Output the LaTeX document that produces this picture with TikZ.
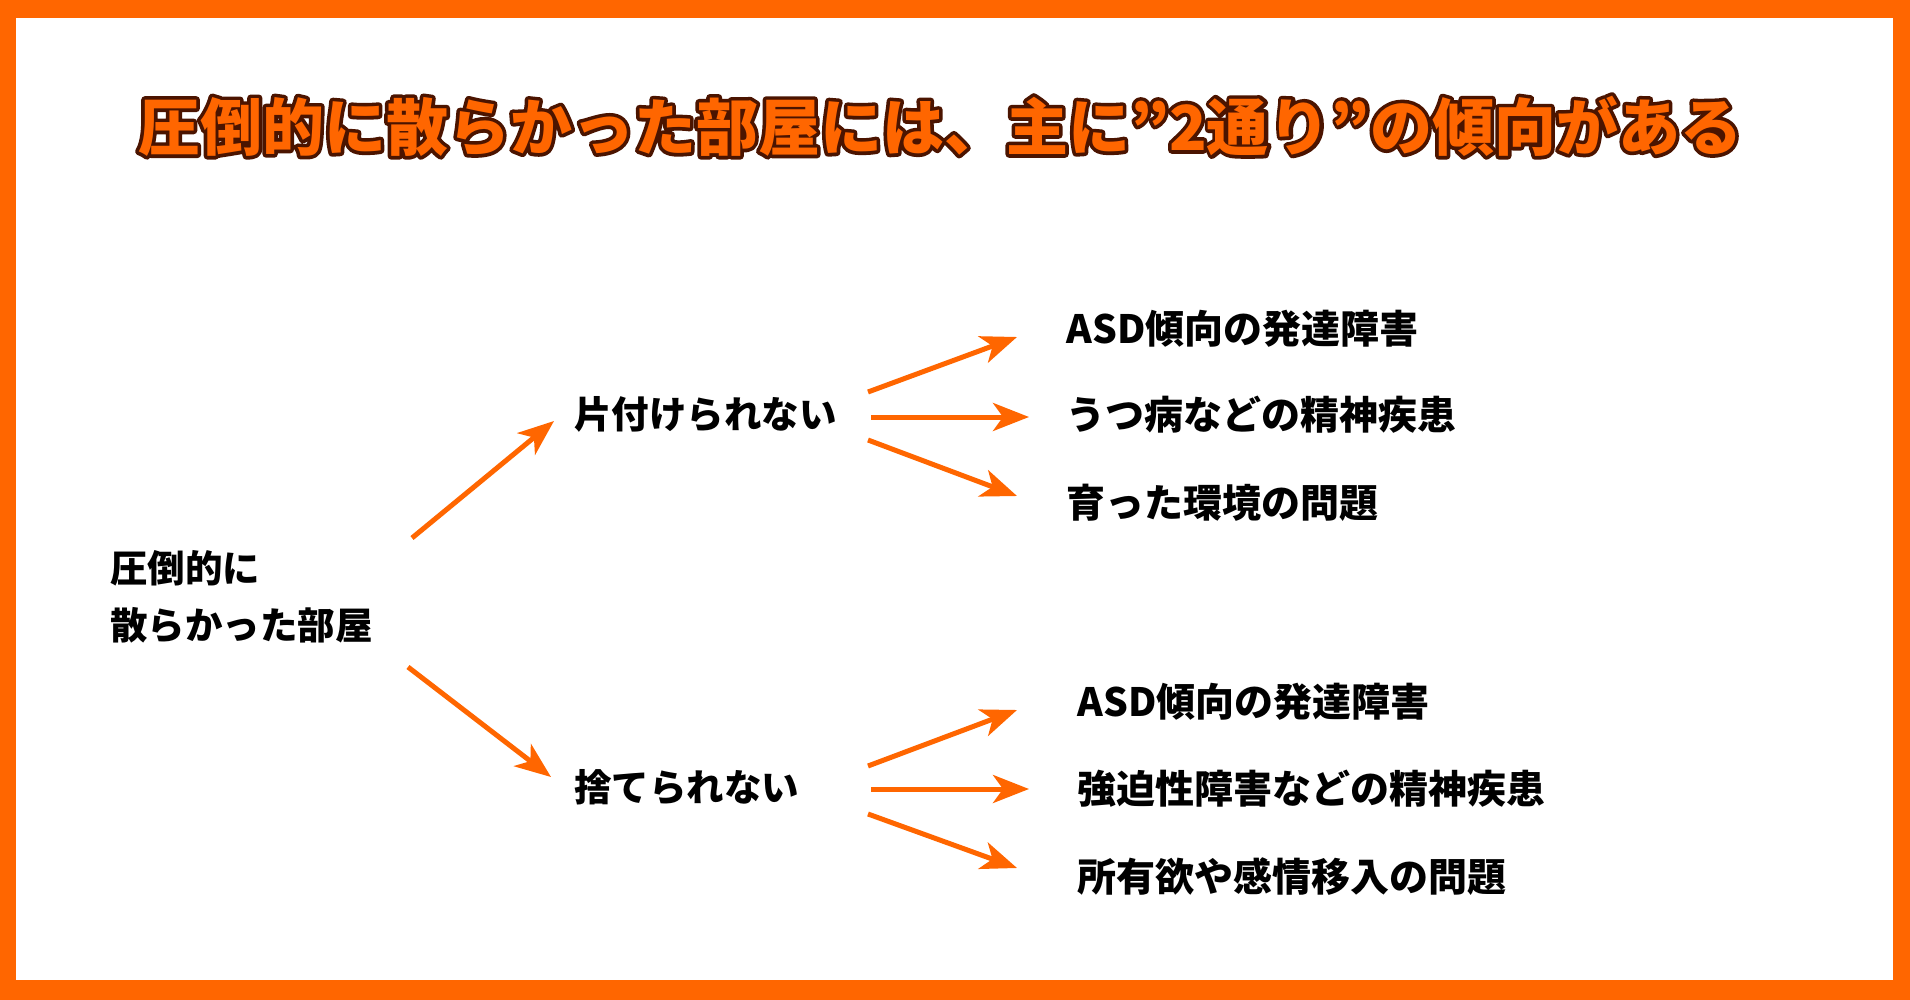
\documentclass[tikz,border=0pt]{standalone}
\usepackage{fontspec}
\newfontfamily\jp{Noto Sans CJK JP}
\usetikzlibrary{arrows.meta,calc}
\definecolor{orng}{HTML}{FF6600}
\definecolor{tdark}{RGB}{75,20,0}
\newcommand\outlined[1]{\leavevmode
  \rlap{\color{tdark}\special{pdf:literal direct 1 Tr 3.6 w 1 j}#1\special{pdf:literal direct 0 Tr 1 w 0 j}}%
  \textcolor{orng}{#1}}
\begin{document}
\begin{tikzpicture}[x=0.5pt,y=-0.5pt,
  lbl/.style={inner sep=0pt,anchor=west,font=\jp\bfseries\fontsize{18.75pt}{28.5pt}\selectfont,text=black},
  rlbl/.style={lbl,font=\jp\bfseries\fontsize{19.5pt}{28.5pt}\selectfont},
  arr/.style={draw=orng,line width=2.5pt,-{Stealth[length=18pt,width=14pt,inset=5pt]}}]
\fill[orng] (0,0) rectangle (1910,1000);
\fill[white] (16,18) rectangle (1893,980);
\useasboundingbox (0,0) rectangle (1910,1000);
\node[inner sep=0pt,font=\jp\bfseries\fontsize{31pt}{36pt}\selectfont] (title) at (940,126)
  {\outlined{圧倒的に散らかった部屋には、主に”2通り”の傾向がある}};
\node[lbl,align=left] (root) at (110,597) {圧倒的に\\散らかった部屋};
\node[lbl] (mid1) at (574,414) {片付けられない};
\node[lbl] (mid2) at (574,787) {捨てられない};
\node[rlbl] (r1) at (1066,329) {ASD傾向の発達障害};
\node[rlbl] (r2) at (1066,415) {うつ病などの精神疾患};
\node[rlbl] (r3) at (1066,503) {育った環境の問題};
\node[rlbl] (s1) at (1077,702) {ASD傾向の発達障害};
\node[rlbl] (s2) at (1077,789) {強迫性障害などの精神疾患};
\node[rlbl] (s3) at (1077,877) {所有欲や感情移入の問題};
\draw[arr] ($(root.west)+(302,-59)$) -- ($(mid1.west)+(-20,7)$);
\draw[arr] ($(root.west)+(298,70)$) -- ($(mid2.west)+(-23,-10)$);
\draw[arr] ($(mid1.west)+(294,-22)$) -- ($(r1.west)+(-49,8)$);
\draw[arr] ($(mid1.west)+(297,3)$) -- ($(r2.west)+(-37,2)$);
\draw[arr] ($(mid1.west)+(294,26)$) -- ($(r3.west)+(-49,-7)$);
\draw[arr] ($(mid2.west)+(294,-21)$) -- ($(s1.west)+(-60,8)$);
\draw[arr] ($(mid2.west)+(297,2)$) -- ($(s2.west)+(-48,0)$);
\draw[arr] ($(mid2.west)+(294,27)$) -- ($(s3.west)+(-60,-9)$);
\end{tikzpicture}
\end{document}
